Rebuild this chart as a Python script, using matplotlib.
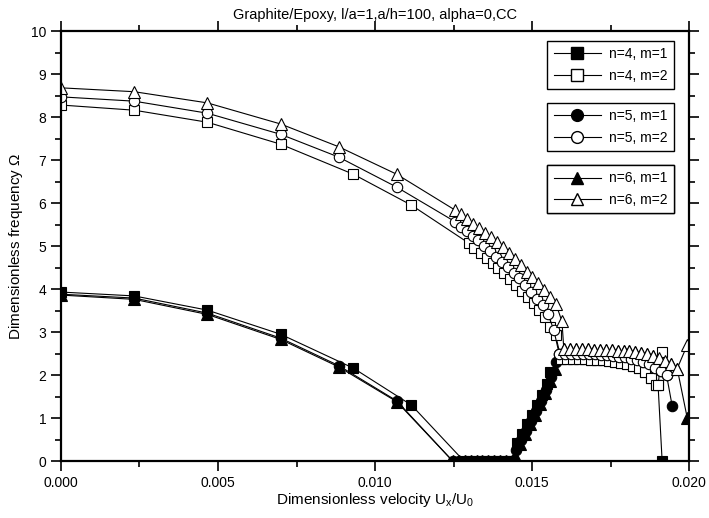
import matplotlib
matplotlib.use("Agg")
import matplotlib.pyplot as plt
from matplotlib.lines import Line2D
from matplotlib.ticker import MultipleLocator, FormatStrFormatter

plt.rcParams["font.family"] = ["Liberation Sans", "DejaVu Sans"]
plt.rcParams["mathtext.fontset"] = "custom"
plt.rcParams["mathtext.rm"] = "Liberation Sans"

################################################################################

# sparse part of every curve (velocity, frequency)
x_start_4 = [0.0, 0.00233, 0.00466, 0.00699, 0.00931, 0.01116]
x_start_56 = [0.0, 0.00233, 0.00466, 0.00699, 0.00884, 0.01069]

y_start_4m1 = [3.93, 3.84, 3.51, 2.95, 2.16, 1.30]
y_start_5m1 = [3.88, 3.79, 3.44, 2.86, 2.22, 1.40]
y_start_6m1 = [3.86, 3.76, 3.41, 2.83, 2.19, 1.38]
y_start_4m2 = [8.28, 8.16, 7.88, 7.37, 6.67, 5.95]
y_start_5m2 = [8.47, 8.37, 8.09, 7.60, 7.07, 6.37]
y_start_6m2 = [8.68, 8.59, 8.33, 7.84, 7.31, 6.67]

# m=2 branch, dense part before coalescence
x_drop_4 = [0.01298, 0.01314, 0.01336, 0.01355, 0.01375, 0.01391, 0.01410,
            0.01429, 0.01448, 0.01467, 0.01486, 0.01505, 0.01521, 0.01540,
            0.01556, 0.01575]
y_drop_4 = [5.07, 4.95, 4.83, 4.72, 4.60, 4.49, 4.37, 4.23, 4.09, 3.95, 3.81,
            3.67, 3.51, 3.35, 3.12, 2.92]
x_drop_5 = [0.01254, 0.01273, 0.01292, 0.01311, 0.01327, 0.01346, 0.01365,
            0.01384, 0.01403, 0.01422, 0.01441, 0.01457, 0.01477, 0.01496,
            0.01515, 0.01534, 0.01550, 0.01569]
y_drop_5 = [5.57, 5.45, 5.36, 5.24, 5.14, 5.00, 4.88, 4.75, 4.63, 4.52, 4.38,
            4.26, 4.09, 3.94, 3.78, 3.63, 3.43, 3.05]
x_drop_6 = [0.01254, 0.01275, 0.01294, 0.01313, 0.01332, 0.01351, 0.01368,
            0.01387, 0.01407, 0.01426, 0.01445, 0.01464, 0.01483, 0.01501,
            0.01519, 0.01538, 0.01557, 0.01576, 0.01595]
y_drop_6 = [5.84, 5.74, 5.62, 5.51, 5.41, 5.30, 5.22, 5.10, 4.97, 4.83, 4.69,
            4.56, 4.40, 4.29, 4.13, 3.98, 3.82, 3.65, 3.25]

# m=1 branch, zero stretch and rise
x_zero_4 = [0.01283, 0.01302, 0.01321, 0.01340, 0.01359, 0.01378, 0.01397,
            0.01416, 0.01435]
x_zero_56 = [0.01247, 0.01266, 0.01285, 0.01304, 0.01323, 0.01342, 0.01361,
             0.01380, 0.01399, 0.01418, 0.01437]
x_rise_4 = [0.01451, 0.01467, 0.01483, 0.01499, 0.01515, 0.01531, 0.01547,
            0.01557]
y_rise_4 = [0.42, 0.62, 0.85, 1.07, 1.30, 1.53, 1.80, 2.07]
x_rise_5 = [0.01448, 0.01464, 0.01480, 0.01496, 0.01512, 0.01528, 0.01544,
            0.01560, 0.01576]
y_rise_5 = [0.25, 0.48, 0.70, 0.93, 1.16, 1.40, 1.66, 1.95, 2.30]
x_rise_6 = [0.01445, 0.01461, 0.01477, 0.01493, 0.01509, 0.01525, 0.01541,
            0.01557, 0.01573, 0.01589]
y_rise_6 = [0.12, 0.40, 0.62, 0.85, 1.08, 1.32, 1.58, 1.86, 2.15, 2.45]

# coalesced part (m=1 and m=2 share it)
x_flat_4 = [0.01592, 0.01611, 0.01630, 0.01649, 0.01668, 0.01687, 0.01706,
            0.01725, 0.01744, 0.01763, 0.01782, 0.01801, 0.01820, 0.01839,
            0.01858, 0.01877, 0.01896, 0.01901]
y_flat_4 = [2.38, 2.38, 2.38, 2.37, 2.37, 2.36, 2.35, 2.34, 2.32, 2.30, 2.28,
            2.25, 2.21, 2.16, 2.08, 1.93, 1.77, 1.77]
x_flat_5 = [0.01586, 0.01605, 0.01624, 0.01643, 0.01662, 0.01681, 0.01700,
            0.01719, 0.01738, 0.01757, 0.01776, 0.01795, 0.01814, 0.01833,
            0.01852, 0.01871, 0.01890, 0.01909, 0.01928]
y_flat_5 = [2.50, 2.50, 2.50, 2.50, 2.49, 2.49, 2.48, 2.47, 2.46, 2.45, 2.43,
            2.41, 2.38, 2.35, 2.30, 2.25, 2.17, 2.10, 2.00]
x_flat_6 = [0.01601, 0.01620, 0.01639, 0.01658, 0.01677, 0.01696, 0.01715,
            0.01734, 0.01753, 0.01772, 0.01791, 0.01810, 0.01829, 0.01848,
            0.01867, 0.01886, 0.01905, 0.01924, 0.01943, 0.01962]
y_flat_6 = [2.60, 2.60, 2.60, 2.60, 2.60, 2.59, 2.59, 2.58, 2.58, 2.57, 2.56,
            2.55, 2.53, 2.51, 2.48, 2.45, 2.40, 2.33, 2.25, 2.15]

# split at the end (the n=5, m=2 branch has no separate end point)
x_end = {4: 0.01914, 5: 0.01946, 6: 0.01994}
y_end_m1 = {4: 0.0, 5: 1.28, 6: 1.00}
y_end_m2 = {4: 2.53, 6: 2.70}

################################################################################

starts = {4: x_start_4, 5: x_start_56, 6: x_start_56}
zeros = {4: x_zero_4, 5: x_zero_56, 6: x_zero_56}
m1_start = {4: y_start_4m1, 5: y_start_5m1, 6: y_start_6m1}
m2_start = {4: y_start_4m2, 5: y_start_5m2, 6: y_start_6m2}
drops = {4: (x_drop_4, y_drop_4), 5: (x_drop_5, y_drop_5), 6: (x_drop_6, y_drop_6)}
rises = {4: (x_rise_4, y_rise_4), 5: (x_rise_5, y_rise_5), 6: (x_rise_6, y_rise_6)}
flats = {4: (x_flat_4, y_flat_4), 5: (x_flat_5, y_flat_5), 6: (x_flat_6, y_flat_6)}
markers = {4: "s", 5: "o", 6: "^"}
msize = {4: 7, 5: 7.5, 6: 8}

fig = plt.figure(figsize=(7.09, 5.18), dpi=100)
ax = fig.add_axes([0.086, 0.110, 0.886, 0.830])

for n in (4, 5, 6):
    xf, yf = flats[n]
    # m=1 (filled)
    xr, yr = rises[n]
    x1 = starts[n] + zeros[n] + xr + xf + [x_end[n]]
    y1 = m1_start[n] + [0.0] * len(zeros[n]) + yr + yf + [y_end_m1[n]]
    ax.plot(x1, y1, color="black", lw=0.8, marker=markers[n], ms=msize[n],
            mfc="black", mec="black", mew=0.8)
for n in (4, 5, 6):
    xf, yf = flats[n]
    xd, yd = drops[n]
    x2 = starts[n] + xd + xf
    y2 = m2_start[n] + yd + yf
    if n in y_end_m2:
        x2 = x2 + [x_end[n]]
        y2 = y2 + [y_end_m2[n]]
    ax.plot(x2, y2, color="black", lw=0.8, marker=markers[n], ms=msize[n],
            mfc="white", mec="black", mew=0.8)

ax.set_xlim(0, 0.020)
ax.set_ylim(0, 10)
ax.xaxis.set_major_locator(MultipleLocator(0.005))
ax.xaxis.set_minor_locator(MultipleLocator(0.0025))
ax.xaxis.set_major_formatter(FormatStrFormatter("%.3f"))
ax.yaxis.set_major_locator(MultipleLocator(1))
ax.yaxis.set_minor_locator(MultipleLocator(0.5))
ax.tick_params(which="both", direction="out", width=1.2, labelsize=10,
               top=True, right=True)
ax.tick_params(which="major", length=7)
ax.tick_params(which="minor", length=4)
for s in ax.spines.values():
    s.set_linewidth(1.6)

ax.set_title("Graphite/Epoxy, l/a=1,a/h=100, alpha=0,CC", fontsize=10.5, pad=9)
ax.set_xlabel(r"Dimensionless velocity U$_\mathregular{x}$/U$_\mathregular{0}$",
              fontsize=11, labelpad=1)
ax.set_ylabel(r"Dimensionless frequency $\Omega$", fontsize=11, labelpad=4)

# three stacked legend boxes, two entries each
tops = [0.977, 0.833, 0.688]
for top, n in zip(tops, (4, 5, 6)):
    handles = [
        Line2D([], [], color="black", lw=0.8, marker=markers[n], ms=msize[n] + 1,
               mfc="black", mec="black"),
        Line2D([], [], color="black", lw=0.8, marker=markers[n], ms=msize[n] + 1,
               mfc="white", mec="black"),
    ]
    leg = ax.legend(handles, [f"n={n}, m=1", f"n={n}, m=2"], loc="upper right",
                    bbox_to_anchor=(0.976, top), borderaxespad=0, fontsize=10,
                    handlelength=3.4, handletextpad=0.6, labelspacing=0.55,
                    fancybox=False, framealpha=1, edgecolor="black",
                    borderpad=0.45)
    leg.get_frame().set_linewidth(1.0)
    ax.add_artist(leg)

fig.savefig("out.png", dpi=100)
